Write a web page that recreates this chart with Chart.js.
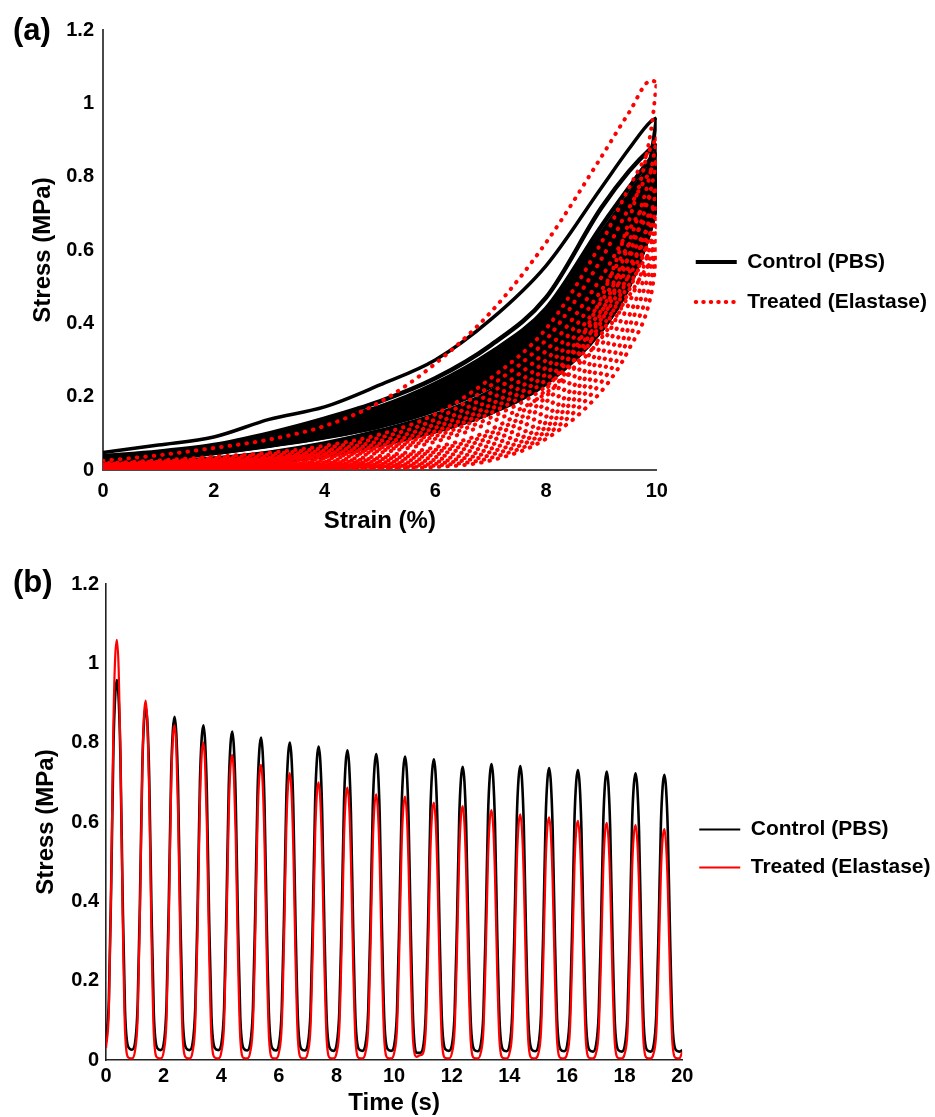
<!DOCTYPE html>
<html>
<head>
<meta charset="utf-8">
<script src="https://cdn.jsdelivr.net/npm/chart.js@4.4.1/dist/chart.umd.min.js"></script>
<style>
html,body{margin:0;padding:0;background:#fff;overflow:hidden;}
canvas{display:block;}
</style>
</head>
<body>
<canvas id="chartA" width="935" height="545"></canvas>
<canvas id="chartB" width="935" height="572"></canvas>
<script>
// ================= Panel (a): stress vs strain loops =================
const strainPts = [0, 1, 2, 3, 4, 5, 6, 7, 8, 9, 9.5, 9.9, 10];
const strainTicks = [0, 2, 4, 6, 8, 10];
const stressTicks = [0, 0.2, 0.4, 0.6, 0.8, 1, 1.2];
// Control (PBS): cycles 1..20, loading branch then unloading branch
const controlLoading = [
  [0.048, 0.068, 0.09, 0.138, 0.172, 0.232, 0.30, 0.41, 0.557, 0.77, 0.876, 0.952, 0.96],
  [0.038, 0.05, 0.068, 0.10, 0.14, 0.187, 0.25, 0.34, 0.47, 0.715, 0.815, 0.878, 0.89],
  [0.035, 0.047, 0.064, 0.095, 0.133, 0.172, 0.235, 0.32, 0.44, 0.665, 0.77, 0.85, 0.865],
  [0.034, 0.045, 0.062, 0.092, 0.129, 0.167, 0.228, 0.31, 0.428, 0.645, 0.75, 0.83, 0.844],
  [0.032, 0.044, 0.06, 0.09, 0.125, 0.163, 0.222, 0.302, 0.418, 0.63, 0.735, 0.815, 0.828],
  [0.031, 0.042, 0.058, 0.087, 0.121, 0.159, 0.216, 0.295, 0.409, 0.615, 0.72, 0.80, 0.813],
  [0.03, 0.041, 0.057, 0.085, 0.118, 0.155, 0.21, 0.288, 0.40, 0.60, 0.705, 0.785, 0.80],
  [0.029, 0.04, 0.055, 0.083, 0.115, 0.151, 0.205, 0.281, 0.391, 0.59, 0.695, 0.775, 0.79],
  [0.028, 0.039, 0.054, 0.081, 0.112, 0.147, 0.20, 0.275, 0.383, 0.58, 0.685, 0.765, 0.781],
  [0.027, 0.038, 0.053, 0.079, 0.109, 0.143, 0.195, 0.268, 0.375, 0.57, 0.675, 0.755, 0.771],
  [0.026, 0.037, 0.052, 0.077, 0.106, 0.14, 0.19, 0.262, 0.367, 0.56, 0.665, 0.748, 0.765],
  [0.025, 0.036, 0.051, 0.075, 0.103, 0.136, 0.185, 0.256, 0.358, 0.548, 0.652, 0.738, 0.758],
  [0.024, 0.035, 0.05, 0.073, 0.10, 0.133, 0.181, 0.25, 0.35, 0.535, 0.64, 0.722, 0.739],
  [0.024, 0.034, 0.049, 0.072, 0.098, 0.13, 0.178, 0.246, 0.345, 0.53, 0.637, 0.726, 0.746],
  [0.023, 0.034, 0.049, 0.071, 0.097, 0.128, 0.175, 0.243, 0.341, 0.525, 0.632, 0.722, 0.741],
  [0.022, 0.033, 0.048, 0.07, 0.095, 0.126, 0.172, 0.24, 0.337, 0.52, 0.628, 0.718, 0.736],
  [0.022, 0.032, 0.047, 0.069, 0.093, 0.124, 0.169, 0.236, 0.333, 0.515, 0.622, 0.713, 0.731],
  [0.021, 0.031, 0.047, 0.068, 0.092, 0.122, 0.167, 0.233, 0.329, 0.51, 0.618, 0.709, 0.727],
  [0.021, 0.031, 0.046, 0.067, 0.09, 0.12, 0.165, 0.23, 0.325, 0.505, 0.614, 0.705, 0.723],
  [0.02, 0.03, 0.046, 0.066, 0.089, 0.119, 0.163, 0.228, 0.322, 0.50, 0.61, 0.70, 0.719]
];
const controlUnloading = [
  [0.015, 0.022, 0.032, 0.048, 0.073, 0.107, 0.15, 0.215, 0.32, 0.50, 0.64, 0.86, 0.96],
  [0.014, 0.02, 0.03, 0.045, 0.069, 0.102, 0.144, 0.207, 0.31, 0.485, 0.615, 0.80, 0.89],
  [0.013, 0.019, 0.028, 0.042, 0.065, 0.097, 0.138, 0.2, 0.3, 0.47, 0.60, 0.78, 0.865],
  [0.012, 0.018, 0.027, 0.04, 0.062, 0.094, 0.134, 0.195, 0.293, 0.46, 0.587, 0.765, 0.844],
  [0.011, 0.017, 0.025, 0.038, 0.06, 0.091, 0.13, 0.19, 0.287, 0.45, 0.575, 0.75, 0.828],
  [0.011, 0.016, 0.024, 0.036, 0.057, 0.088, 0.127, 0.186, 0.281, 0.443, 0.565, 0.737, 0.813],
  [0.01, 0.015, 0.022, 0.035, 0.055, 0.086, 0.124, 0.182, 0.275, 0.435, 0.555, 0.725, 0.80],
  [0.01, 0.014, 0.021, 0.033, 0.053, 0.083, 0.121, 0.178, 0.27, 0.428, 0.547, 0.717, 0.79],
  [0.009, 0.013, 0.02, 0.032, 0.051, 0.081, 0.119, 0.175, 0.265, 0.42, 0.54, 0.71, 0.781],
  [0.009, 0.013, 0.019, 0.03, 0.049, 0.079, 0.117, 0.171, 0.26, 0.412, 0.533, 0.702, 0.771],
  [0.008, 0.012, 0.018, 0.029, 0.047, 0.077, 0.115, 0.168, 0.256, 0.405, 0.527, 0.695, 0.765],
  [0.008, 0.011, 0.017, 0.027, 0.045, 0.075, 0.113, 0.165, 0.252, 0.40, 0.521, 0.688, 0.758],
  [0.007, 0.011, 0.016, 0.026, 0.044, 0.074, 0.111, 0.163, 0.248, 0.395, 0.515, 0.675, 0.739],
  [0.007, 0.01, 0.016, 0.025, 0.043, 0.073, 0.11, 0.161, 0.246, 0.392, 0.512, 0.677, 0.746],
  [0.006, 0.01, 0.015, 0.025, 0.042, 0.072, 0.109, 0.16, 0.244, 0.39, 0.51, 0.673, 0.741],
  [0.006, 0.009, 0.015, 0.024, 0.041, 0.071, 0.108, 0.159, 0.242, 0.388, 0.507, 0.67, 0.736],
  [0.006, 0.009, 0.014, 0.023, 0.04, 0.07, 0.107, 0.158, 0.24, 0.385, 0.505, 0.667, 0.731],
  [0.005, 0.008, 0.014, 0.023, 0.039, 0.069, 0.106, 0.157, 0.238, 0.383, 0.503, 0.664, 0.727],
  [0.005, 0.008, 0.013, 0.022, 0.039, 0.069, 0.106, 0.156, 0.237, 0.381, 0.501, 0.662, 0.723],
  [0.005, 0.008, 0.013, 0.022, 0.038, 0.068, 0.105, 0.155, 0.235, 0.38, 0.50, 0.66, 0.719]
];
// Treated (Elastase): cycles 1, 2, 3, 5, 7, 9, 11, 13, 16, 20
const treatedLoading = [
  [0.025, 0.04, 0.06, 0.083, 0.12, 0.185, 0.29, 0.43, 0.62, 0.854, 0.975, 1.062, 1.058],
  [0.018, 0.026, 0.036, 0.047, 0.066, 0.097, 0.152, 0.25, 0.385, 0.62, 0.77, 0.88, 0.906],
  [0.016, 0.023, 0.032, 0.043, 0.06, 0.088, 0.138, 0.23, 0.355, 0.575, 0.715, 0.82, 0.844],
  [0.014, 0.02, 0.028, 0.038, 0.054, 0.079, 0.125, 0.21, 0.325, 0.525, 0.655, 0.75, 0.769],
  [0.012, 0.018, 0.025, 0.034, 0.05, 0.072, 0.115, 0.193, 0.3, 0.49, 0.615, 0.705, 0.723],
  [0.011, 0.016, 0.023, 0.031, 0.045, 0.066, 0.106, 0.178, 0.28, 0.46, 0.58, 0.67, 0.687],
  [0.01, 0.014, 0.021, 0.029, 0.042, 0.061, 0.099, 0.166, 0.262, 0.435, 0.555, 0.648, 0.664],
  [0.009, 0.013, 0.019, 0.027, 0.038, 0.057, 0.092, 0.155, 0.246, 0.412, 0.53, 0.625, 0.64],
  [0.008, 0.012, 0.017, 0.024, 0.035, 0.052, 0.085, 0.143, 0.228, 0.388, 0.505, 0.598, 0.612],
  [0.007, 0.01, 0.015, 0.021, 0.031, 0.047, 0.077, 0.13, 0.21, 0.36, 0.475, 0.568, 0.582]
];
const treatedUnloading = [
  [0.006, 0.008, 0.012, 0.018, 0.026, 0.038, 0.062, 0.11, 0.22, 0.47, 0.68, 0.93, 1.058],
  [0.005, 0.007, 0.01, 0.015, 0.022, 0.033, 0.055, 0.1, 0.2, 0.43, 0.62, 0.82, 0.906],
  [0.004, 0.006, 0.009, 0.013, 0.019, 0.029, 0.049, 0.09, 0.185, 0.405, 0.585, 0.77, 0.844],
  [0.003, 0.005, 0.007, 0.011, 0.016, 0.024, 0.042, 0.079, 0.165, 0.37, 0.535, 0.70, 0.769],
  [0.002, 0.004, 0.006, 0.009, 0.013, 0.02, 0.035, 0.068, 0.145, 0.34, 0.49, 0.655, 0.723],
  [0.002, 0.003, 0.005, 0.007, 0.011, 0.016, 0.028, 0.058, 0.13, 0.315, 0.455, 0.62, 0.687],
  [0.001, 0.002, 0.004, 0.006, 0.009, 0.013, 0.022, 0.049, 0.117, 0.29, 0.42, 0.59, 0.664],
  [0.001, 0.002, 0.003, 0.005, 0.007, 0.01, 0.017, 0.041, 0.106, 0.265, 0.39, 0.56, 0.64],
  [0.0, 0.001, 0.002, 0.004, 0.005, 0.007, 0.012, 0.033, 0.095, 0.24, 0.36, 0.52, 0.612],
  [0.0, 0.001, 0.002, 0.003, 0.004, 0.005, 0.008, 0.026, 0.085, 0.215, 0.33, 0.48, 0.582]
];

// ================= Panel (b): stress vs time =================
const timeTicks = [0, 2, 4, 6, 8, 10, 12, 14, 16, 18, 20];
const cycleOffsets = [0, 0.1, 0.18, 0.26, 0.32, 0.38, 0.44, 0.5, 0.58, 0.66, 0.78, 0.9];
const controlCycles = [
  [0.045, 0.153, 0.441, 0.795, 0.920, 0.958, 0.910, 0.766, 0.402, 0.125, 0.032, 0.026],
  [0.04, 0.142, 0.409, 0.739, 0.854, 0.89, 0.846, 0.712, 0.374, 0.116, 0.03, 0.025],
  [0.04, 0.138, 0.398, 0.718, 0.830, 0.865, 0.822, 0.692, 0.363, 0.112, 0.03, 0.025],
  [0.04, 0.135, 0.388, 0.701, 0.810, 0.844, 0.802, 0.675, 0.354, 0.110, 0.03, 0.025],
  [0.039, 0.132, 0.381, 0.687, 0.795, 0.828, 0.787, 0.662, 0.348, 0.108, 0.029, 0.024],
  [0.039, 0.130, 0.374, 0.675, 0.780, 0.813, 0.772, 0.650, 0.341, 0.106, 0.029, 0.024],
  [0.038, 0.128, 0.368, 0.664, 0.768, 0.80, 0.76, 0.64, 0.336, 0.104, 0.028, 0.024],
  [0.038, 0.126, 0.363, 0.656, 0.758, 0.79, 0.751, 0.632, 0.332, 0.103, 0.028, 0.023],
  [0.037, 0.125, 0.359, 0.648, 0.750, 0.781, 0.742, 0.625, 0.328, 0.102, 0.027, 0.023],
  [0.037, 0.123, 0.355, 0.640, 0.740, 0.771, 0.732, 0.617, 0.324, 0.100, 0.027, 0.023],
  [0.036, 0.122, 0.352, 0.635, 0.734, 0.765, 0.727, 0.612, 0.321, 0.099, 0.018, 0.018],
  [0.03, 0.121, 0.349, 0.629, 0.728, 0.758, 0.720, 0.606, 0.318, 0.099, 0.027, 0.023],
  [0.036, 0.118, 0.340, 0.613, 0.709, 0.739, 0.702, 0.591, 0.310, 0.096, 0.026, 0.022],
  [0.036, 0.119, 0.343, 0.619, 0.716, 0.746, 0.709, 0.597, 0.313, 0.097, 0.026, 0.022],
  [0.035, 0.119, 0.341, 0.615, 0.711, 0.741, 0.704, 0.593, 0.311, 0.096, 0.026, 0.022],
  [0.035, 0.118, 0.339, 0.611, 0.707, 0.736, 0.699, 0.589, 0.309, 0.096, 0.026, 0.022],
  [0.035, 0.117, 0.336, 0.607, 0.702, 0.731, 0.694, 0.585, 0.307, 0.095, 0.025, 0.021],
  [0.035, 0.116, 0.334, 0.603, 0.698, 0.727, 0.691, 0.582, 0.305, 0.095, 0.025, 0.021],
  [0.034, 0.116, 0.333, 0.600, 0.694, 0.723, 0.687, 0.578, 0.304, 0.094, 0.025, 0.021],
  [0.034, 0.115, 0.331, 0.597, 0.690, 0.719, 0.683, 0.575, 0.302, 0.093, 0.025, 0.021]
];
const treatedCycles = [
  [0.03, 0.127, 0.445, 0.858, 1.017, 1.059, 0.985, 0.784, 0.360, 0.074, 0.006, 0.004],
  [0.02, 0.109, 0.381, 0.734, 0.870, 0.906, 0.843, 0.670, 0.308, 0.063, 0.006, 0.004],
  [0.02, 0.101, 0.354, 0.684, 0.810, 0.844, 0.785, 0.625, 0.287, 0.059, 0.006, 0.004],
  [0.019, 0.096, 0.336, 0.648, 0.768, 0.80, 0.744, 0.592, 0.272, 0.056, 0.006, 0.004],
  [0.019, 0.092, 0.323, 0.623, 0.738, 0.769, 0.715, 0.569, 0.261, 0.054, 0.005, 0.004],
  [0.018, 0.089, 0.312, 0.603, 0.714, 0.744, 0.692, 0.551, 0.253, 0.052, 0.005, 0.004],
  [0.018, 0.087, 0.304, 0.586, 0.694, 0.723, 0.672, 0.535, 0.246, 0.051, 0.005, 0.004],
  [0.018, 0.084, 0.294, 0.567, 0.672, 0.70, 0.651, 0.518, 0.238, 0.049, 0.005, 0.004],
  [0.017, 0.082, 0.289, 0.556, 0.660, 0.687, 0.639, 0.508, 0.234, 0.048, 0.005, 0.004],
  [0.017, 0.080, 0.281, 0.543, 0.643, 0.67, 0.623, 0.496, 0.228, 0.047, 0.005, 0.004],
  [0.017, 0.080, 0.279, 0.538, 0.637, 0.664, 0.618, 0.491, 0.226, 0.046, 0.008, 0.012],
  [0.016, 0.078, 0.273, 0.526, 0.623, 0.649, 0.604, 0.480, 0.221, 0.045, 0.005, 0.004],
  [0.016, 0.077, 0.269, 0.518, 0.614, 0.64, 0.595, 0.474, 0.218, 0.045, 0.005, 0.004],
  [0.016, 0.076, 0.265, 0.510, 0.605, 0.63, 0.586, 0.466, 0.214, 0.044, 0.005, 0.004],
  [0.016, 0.074, 0.260, 0.501, 0.594, 0.619, 0.576, 0.458, 0.210, 0.043, 0.005, 0.004],
  [0.015, 0.073, 0.257, 0.496, 0.588, 0.612, 0.569, 0.453, 0.208, 0.043, 0.005, 0.004],
  [0.015, 0.072, 0.253, 0.488, 0.579, 0.603, 0.561, 0.446, 0.205, 0.042, 0.005, 0.004],
  [0.015, 0.072, 0.251, 0.484, 0.574, 0.598, 0.556, 0.443, 0.203, 0.042, 0.005, 0.004],
  [0.015, 0.071, 0.249, 0.480, 0.568, 0.592, 0.551, 0.438, 0.201, 0.041, 0.005, 0.004],
  [0.015, 0.070, 0.244, 0.471, 0.559, 0.582, 0.541, 0.431, 0.198, 0.041, 0.005, 0.004]
];
const endTime = 20;
const controlEnd = 0.025;
const treatedEnd = 0.02;

// ================= helpers / styling =================
const FONT = "'Liberation Sans', Arial, Helvetica, sans-serif";
Chart.defaults.font.family = FONT;
Chart.defaults.font.weight = 'bold';
Chart.defaults.color = '#000';

const panelLabel = {
  id: 'panelLabel',
  afterDraw(chart, args, opts) {
    const ctx = chart.ctx;
    ctx.save();
    ctx.font = 'bold 31px ' + FONT;
    ctx.fillStyle = '#000';
    ctx.textAlign = 'left';
    ctx.textBaseline = 'middle';
    ctx.fillText(opts.text, opts.x, chart.chartArea.top + opts.dy);
    ctx.restore();
  }
};

function tickSetter(list) {
  return function (scale) { scale.ticks = list.map(v => ({ value: v })); };
}
function axisCommon(tickList, borderColor, borderWidth, pad) {
  return {
    type: 'linear',
    afterBuildTicks: tickSetter(tickList),
    grid: { display: false, drawTicks: false },
    border: { display: true, color: borderColor, width: borderWidth },
    ticks: { font: { size: 20, weight: 'bold' }, color: '#000', padding: pad,
             autoSkip: false, maxRotation: 0, callback: v => String(v) }
  };
}
function legendItems(dashRed, wBlack, wRed) {
  return () => [
    { text: 'Control (PBS)', fontColor: '#000', strokeStyle: '#000', fillStyle: '#000',
      lineWidth: wBlack, lineDash: [], lineCap: 'butt', pointStyle: 'line', hidden: false, datasetIndex: 0 },
    { text: 'Treated (Elastase)', fontColor: '#000', strokeStyle: '#ff0000', fillStyle: '#ff0000',
      lineWidth: wRed, lineDash: dashRed, lineCap: dashRed.length ? 'round' : 'butt',
      pointStyle: 'line', hidden: false, datasetIndex: 1 }
  ];
}

// ---------- build panel (a) datasets ----------
function strainCurve(arr) { return strainPts.map((s, i) => ({ x: s, y: arr[i] })); }
const lineBase = { pointRadius: 0, fill: false, cubicInterpolationMode: 'monotone', yAxisID: 'y', xAxisID: 'x' };
const datasetsA = [];
treatedLoading.concat(treatedUnloading).forEach((arr, i) => {
  datasetsA.push(Object.assign({}, lineBase, {
    data: strainCurve(arr), borderColor: '#ff0000', borderWidth: 4,
    borderDash: [0.5, 8], borderDashOffset: (i * 2.9) % 8.5, borderCapStyle: 'round', order: 0
  }));
});
controlLoading.forEach((arr, i) => {
  datasetsA.push(Object.assign({}, lineBase, {
    data: strainCurve(arr), borderColor: '#000000', borderWidth: i === 0 ? 3.5 : 4.5,
    borderJoinStyle: 'round', order: 1
  }));
});
controlUnloading.forEach(arr => {
  datasetsA.push(Object.assign({}, lineBase, {
    data: strainCurve(arr), borderColor: '#000000', borderWidth: 4,
    borderJoinStyle: 'round', order: 1
  }));
});

new Chart(document.getElementById('chartA'), {
  type: 'line',
  data: { datasets: datasetsA },
  plugins: [panelLabel],
  options: {
    responsive: false, animation: false, devicePixelRatio: 1, events: [],
    layout: { padding: { left: 27, top: 30, right: -2, bottom: 12 } },
    scales: {
      x: Object.assign(axisCommon(strainTicks, '#4a4a4a', 2, 9), {
        min: 0, max: 10, position: 'bottom',
        title: { display: true, text: 'Strain (%)', color: '#000',
                 font: { size: 24, weight: 'bold', lineHeight: 1 }, padding: { top: 0, bottom: 0 } },
        afterFit: s => { s.height = 63; }
      }),
      y: Object.assign(axisCommon(stressTicks, '#4a4a4a', 2, 9), {
        min: 0, max: 1.2, position: 'left',
        title: { display: true, text: 'Stress (MPa)', color: '#000',
                 font: { size: 24, weight: 'bold', lineHeight: 1 }, padding: { top: 4, bottom: 0 } },
        afterFit: s => { s.width = 76; }
      }),
      gap: {
        type: 'linear', position: 'right', display: true,
        grid: { display: false, drawTicks: false }, border: { display: false },
        ticks: { display: false }, afterFit: s => { s.width = 20; }
      }
    },
    plugins: {
      panelLabel: { text: '(a)', x: 13, dy: 1 },
      tooltip: { enabled: false },
      legend: {
        display: true, position: 'right', align: 'center', fullSize: false, maxWidth: 320,
        title: { display: true, text: '', font: { size: 10, lineHeight: 1 }, padding: { top: 54, bottom: 0 } },
        labels: {
          usePointStyle: true, pointStyleWidth: 41, padding: 19, color: '#000',
          font: { size: 21, weight: 'bold' },
          generateLabels: legendItems([0.5, 7], 4, 4)
        }
      }
    }
  }
});

// ---------- build panel (b) datasets ----------
function timeSeries(cycles, endVal) {
  const pts = [];
  cycles.forEach((vals, k) => {
    cycleOffsets.forEach((o, j) => pts.push({ x: k + o, y: vals[j] }));
  });
  pts.push({ x: endTime, y: endVal });
  return pts;
}

new Chart(document.getElementById('chartB'), {
  type: 'line',
  data: {
    datasets: [
      Object.assign({}, lineBase, { data: timeSeries(treatedCycles, treatedEnd),
        borderColor: '#ff0000', borderWidth: 2.2, order: 0 }),
      Object.assign({}, lineBase, { data: timeSeries(controlCycles, controlEnd),
        borderColor: '#000000', borderWidth: 2.6, order: 1 })
    ]
  },
  plugins: [panelLabel],
  options: {
    responsive: false, animation: false, devicePixelRatio: 1, events: [],
    layout: { padding: { left: 30, top: 39, right: -5.5, bottom: 2 } },
    scales: {
      x: Object.assign(axisCommon(timeTicks, '#222', 1.6, 4), {
        min: 0, max: 20, position: 'bottom',
        title: { display: true, text: 'Time (s)', color: '#000',
                 font: { size: 24, weight: 'bold', lineHeight: 1 }, padding: { top: 0, bottom: 0 } },
        afterFit: s => { s.height = 55; }
      }),
      y: Object.assign(axisCommon(stressTicks, '#222', 1.6, 7), {
        min: 0, max: 1.2, position: 'left',
        title: { display: true, text: 'Stress (MPa)', color: '#000',
                 font: { size: 24, weight: 'bold', lineHeight: 1 }, padding: { top: 4, bottom: 0 } },
        afterFit: s => { s.width = 76; }
      })
    },
    plugins: {
      panelLabel: { text: '(b)', x: 13, dy: -1 },
      tooltip: { enabled: false },
      legend: {
        display: true, position: 'right', align: 'center', fullSize: false, maxWidth: 320,
        title: { display: true, text: '', font: { size: 10, lineHeight: 1 }, padding: { top: 43, bottom: 0 } },
        labels: {
          usePointStyle: true, pointStyleWidth: 41, padding: 17, color: '#000',
          font: { size: 21, weight: 'bold' },
          generateLabels: legendItems([], 2, 2)
        }
      }
    }
  }
});
</script>
</body>
</html>
